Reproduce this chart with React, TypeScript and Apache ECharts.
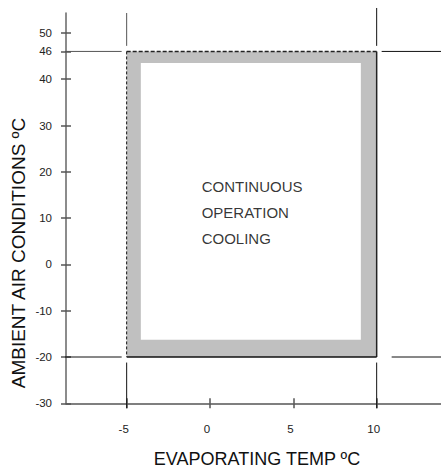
import React, { useEffect, useRef } from "react";
import * as echarts from "echarts";

// Axis ticks / labels
const evapTicks = [-5, 0, 5, 10];
const ambientTicks = [-30, -20, -10, 0, 10, 20, 30, 40, 46, 50];

// Axis ranges
const evapRange = [-8.64, 13.86];
const ambientRange = [-30, 54.3];

// Operating envelope (outer limits) and the inner white region
const envelopeEvap = [-5, 10];
const envelopeAmbient = [-20, 46];
const innerEvap = [-4.15, 9.05];
const innerAmbient = [-16.3, 43.5];

// Region text
const regionLines = ["CONTINUOUS", "OPERATION", "COOLING"];
const regionAnchor = [-0.5, 11.2];

// Axis titles
const xTitle = "EVAPORATING TEMP ºC";
const yTitle = "AMBIENT AIR CONDITIONS ºC";

const FONT = "Liberation Sans, Arial, Helvetica, sans-serif";

export default function App() {
  const ref = useRef<HTMLDivElement>(null);

  useEffect(() => {
    if (!ref.current) return;
    const chart = echarts.init(ref.current, null, { renderer: "svg" });

    const [eL, eR] = envelopeEvap;
    const [aB, aT] = envelopeAmbient;
    const gx = 0.3; // gap in evap units
    const gy = 1.2; // gap in ambient units
    const ox = 0.3; // overshoot in evap units
    const oy = 1.08; // overshoot in ambient units

    const guideSegments: number[][][] = [
      [[eL, ambientRange[1]], [eL, aT + gy]],
      [[eL, aB - gy], [eL, ambientRange[0] - oy]],
      [[eR, ambientRange[1] + oy], [eR, aT + gy]],
      [[eR, aB - gy], [eR, ambientRange[0] - oy]],
      [[evapRange[0] - ox, aT], [eL - gx, aT]],
      [[eR + gx, aT], [evapRange[1], aT]],
      [[evapRange[0] - ox, aB], [eL - gx, aB]],
      [[eR + 0.9, aB], [evapRange[1], aB]],
    ];

    const guideSeries = guideSegments.map((seg, i) => ({
      type: "line",
      data: seg,
      clip: false,
      symbol: "none",
      silent: true,
      lineStyle: { color: i === 0 || i === 4 ? "#555" : "#111", width: 1 },
      z: 3,
    }));

    const baseX = {
      type: "value",
      min: evapRange[0],
      max: evapRange[1],
      splitLine: { show: false },
    };
    const baseY = {
      type: "value",
      min: ambientRange[0],
      max: ambientRange[1],
      splitLine: { show: false },
    };

    chart.setOption({
      animation: false,
      backgroundColor: "#fff",
      textStyle: { fontFamily: FONT },
      grid: { left: 66, right: 0, top: 13, bottom: 70.7, containLabel: false },
      xAxis: [
        {
          ...baseX,
          position: "bottom",
          axisLine: { show: true, onZero: false, lineStyle: { color: "#555", width: 1.5 } },
          axisTick: { show: true, length: 5, inside: false, customValues: evapTicks, lineStyle: { color: "#555", width: 1.5 } },
          axisLabel: {
            show: true,
            customValues: evapTicks,
            margin: 20,
            fontSize: 11.5,
            color: "#222",
            fontFamily: FONT,
            padding: [0, 6, 0, 0],
          },
          name: xTitle,
          nameLocation: "middle",
          nameGap: 47,
          nameTextStyle: { fontSize: 18, color: "#111", fontFamily: FONT, padding: [0, 0, 0, 7] },
        },
        {
          ...baseX,
          position: "bottom",
          axisLine: { show: false, onZero: false },
          axisTick: { show: true, length: 5, inside: true, customValues: evapTicks, lineStyle: { color: "#555", width: 1.5 } },
          axisLabel: { show: false },
        },
      ],
      yAxis: [
        {
          ...baseY,
          position: "left",
          axisLine: { show: true, onZero: false, lineStyle: { color: "#666", width: 1.5 } },
          axisTick: { show: true, length: 5, inside: false, customValues: ambientTicks, lineStyle: { color: "#555", width: 1.5 } },
          axisLabel: {
            show: true,
            customValues: ambientTicks,
            margin: 14,
            fontSize: 11.5,
            color: "#222",
            fontFamily: FONT,
            verticalAlign: "middle",
            padding: [9, 0, 0, 0],
          },
        },
        {
          ...baseY,
          position: "left",
          axisLine: { show: false, onZero: false },
          axisTick: { show: true, length: 5, inside: true, customValues: ambientTicks, lineStyle: { color: "#555", width: 1.5 } },
          axisLabel: { show: false },
        },
      ],
      graphic: [
        {
          type: "text",
          x: 18,
          y: 253,
          rotation: Math.PI / 2,
          style: {
            text: yTitle,
            fontSize: 19,
            fontFamily: FONT,
            fill: "#111",
            align: "center",
            verticalAlign: "middle",
          },
        },
      ],
      series: [
        {
          type: "custom",
          silent: true,
          clip: false,
          z: 2,
          data: [[envelopeEvap[0], envelopeAmbient[0], envelopeEvap[1], envelopeAmbient[1], innerEvap[0], innerAmbient[0], innerEvap[1], innerAmbient[1]]],
          renderItem: (params: any, api: any) => {
            const o1 = api.coord([api.value(0), api.value(1)]);
            const o2 = api.coord([api.value(2), api.value(3)]);
            const i1 = api.coord([api.value(4), api.value(5)]);
            const i2 = api.coord([api.value(6), api.value(7)]);
            const L = o1[0], B = o1[1], R = o2[0], T = o2[1];
            return {
              type: "group",
              children: [
                { type: "rect", shape: { x: L, y: T, width: R - L, height: B - T }, style: { fill: "#c0c0c0" } },
                { type: "rect", shape: { x: i1[0], y: i2[1], width: i2[0] - i1[0], height: i1[1] - i2[1] }, style: { fill: "#ffffff" } },
                { type: "line", shape: { x1: L, y1: T, x2: L, y2: B }, style: { stroke: "#111", lineWidth: 1, lineDash: [3, 2] } },
                { type: "line", shape: { x1: L, y1: T, x2: R, y2: T }, style: { stroke: "#222", lineWidth: 1.5, lineDash: [4, 2] } },
                { type: "line", shape: { x1: R, y1: T, x2: R, y2: B }, style: { stroke: "#222", lineWidth: 1.5 } },
                { type: "line", shape: { x1: L, y1: B, x2: R, y2: B }, style: { stroke: "#111", lineWidth: 1.5 } },
              ],
            };
          },
        },
        ...guideSeries,
        {
          type: "scatter",
          data: [regionAnchor],
          symbolSize: 0,
          silent: true,
          z: 5,
          label: {
            show: true,
            position: "right",
            distance: 0,
            formatter: regionLines.join("\n"),
            fontSize: 15,
            lineHeight: 25.7,
            color: "#000",
            fontFamily: FONT,
            align: "left",
            verticalAlign: "middle",
          },
        },
      ],
    });

    return () => chart.dispose();
  }, []);

  return (
    <div
      ref={ref}
      style={{ position: "fixed", left: 0, top: 0, width: 441, height: 474, background: "#fff" }}
    />
  );
}
